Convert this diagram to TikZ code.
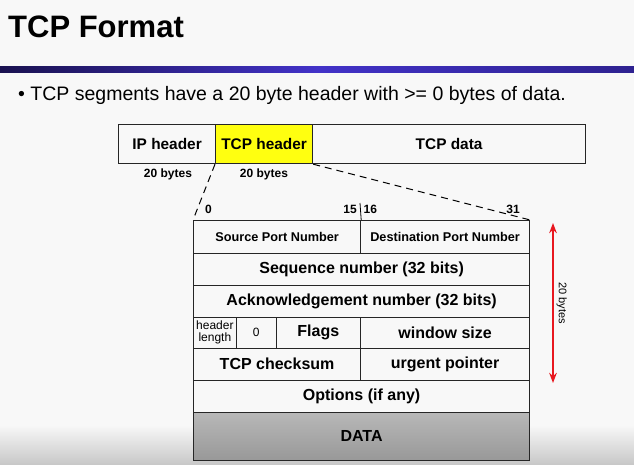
\documentclass[tikz,border=0pt]{standalone}
\usepackage{fontspec}
\setmainfont{Liberation Sans}
\usetikzlibrary{arrows.meta}

\definecolor{slidebg}{HTML}{F8F8F8}
\definecolor{rulenavy}{HTML}{1A1250}
\definecolor{ruleblue}{HTML}{4232C8}
\definecolor{ruleend}{HTML}{2E2290}
\definecolor{hdryellow}{HTML}{FFFF10}
\definecolor{sizered}{HTML}{E81820}
\definecolor{datatop}{HTML}{B8B8B8}
\definecolor{databot}{HTML}{989898}

\newcommand{\fsz}[1]{\fontsize{#1}{#1}\selectfont}

\begin{document}
\begin{tikzpicture}[x=1pt, y=-1pt, >=Stealth,
    cell/.style={draw=black!85, line width=1.2pt, inner sep=0pt, anchor=north west},
    bitlbl/.style={font=\fsz{12}\bfseries, inner sep=0pt}]
    % slide background
    \fill[slidebg] (0,0) rectangle (634,465);
    \useasboundingbox (0,0) rectangle (634,465);
    \shade[top color=slidebg, bottom color=black!22] (0,425) rectangle (634,465);

    % title and rule
    \node[anchor=base west, inner sep=0pt, font=\fsz{31}\bfseries] (title) at (8,37.5) {TCP Format};
    \shade[left color=rulenavy, right color=ruleend, middle color=ruleblue] (0,66.7) rectangle (634,72.3);
    \node[anchor=base west, inner sep=0pt, font=\fsz{19.5}] (bullet) at (18,100.5)
        {\textbullet\ TCP segments have a 20 byte header with >= 0 bytes of data.};

    % IP datagram
    \node[cell, minimum width=97pt, minimum height=39pt, font=\fsz{15.4}\bfseries] (iphdr) at (118,124) {IP header};
    \node[cell, fill=hdryellow, minimum width=97pt, minimum height=39pt, font=\fsz{15.4}\bfseries] (tcphdr) at (215,124) {TCP header};
    \node[cell, minimum width=273pt, minimum height=39pt, font=\fsz{15.4}\bfseries] (tcpdata) at (312,124) {TCP data};
    \node[bitlbl] (ipsize) at (168,174) {20 bytes};
    \node[bitlbl] (tcpsize) at (264,174) {20 bytes};

    % TCP header fields
    \node[cell, minimum width=167pt, minimum height=32.5pt, font=\fsz{12.7}\bfseries] (srcport) at (193,220) {Source Port Number};
    \node[cell, minimum width=169pt, minimum height=32.5pt, font=\fsz{12.7}\bfseries] (dstport) at (360,220) {Destination Port Number};
    \node[cell, minimum width=336pt, minimum height=32pt, font=\fsz{16}\bfseries] (seqnum) at (193,252.5) {Sequence number (32 bits)};
    \node[cell, minimum width=336pt, minimum height=32pt, font=\fsz{16}\bfseries] (acknum) at (193,284.5) {Acknowledgement number (32 bits)};
    \node[cell, minimum width=42.5pt, minimum height=31pt, font=\fsz{12}, align=center] (hdrlen) at (193,316.5) {header\\[-0.5pt]length};
    \node[cell, minimum width=40pt, minimum height=31pt, font=\fsz{12}] (zero) at (235.5,316.5) {0};
    \node[cell, minimum width=84.5pt, minimum height=31pt, font=\fsz{16}\bfseries] (flags) at (275.5,316.5) {Flags};
    \node[cell, minimum width=169pt, minimum height=31pt, font=\fsz{16}\bfseries] (winsize) at (360,316.5) {window size};
    \node[cell, minimum width=167pt, minimum height=32pt, font=\fsz{16}\bfseries] (chksum) at (193,347.5) {TCP checksum};
    \node[cell, minimum width=169pt, minimum height=32pt, font=\fsz{16}\bfseries] (urgptr) at (360,347.5) {urgent pointer};
    \node[cell, minimum width=336pt, minimum height=32pt, font=\fsz{16}\bfseries] (options) at (193,379.5) {Options (if any)};
    \node[cell, top color=datatop, bottom color=databot, minimum width=336pt, minimum height=48.5pt, font=\fsz{16}\bfseries] (data) at (193,411.5) {DATA};

    % zoom lines
    \draw[line width=1pt, dash pattern=on 7pt off 5pt] (tcphdr.south west) -- (srcport.north west);
    \draw[line width=1pt, dash pattern=on 7pt off 5pt] (tcphdr.south east) -- (dstport.north east);

    % bit positions
    \coordinate (midtick) at (360,203);
    \draw[line width=0.8pt] (srcport.north east) -- (midtick);
    \node[bitlbl] (bit0) at (208.5,209) {0};
    \node[bitlbl, anchor=east] (bit15) at (357,209) {15};
    \node[bitlbl, anchor=west] (bit16) at (363.5,209) {16};
    \node[bitlbl] (bit31) at (513,209) {31};

    % header size
    \coordinate (sztop) at (553,223);
    \coordinate (szbot) at (553,383);
    \draw[<->, sizered, line width=1.6pt] (sztop) -- (szbot);
    \node[rotate=-90, anchor=south, inner sep=0pt, font=\fsz{11}] (szlbl) at (556.5,303) {20 bytes};
\end{tikzpicture}
\end{document}
